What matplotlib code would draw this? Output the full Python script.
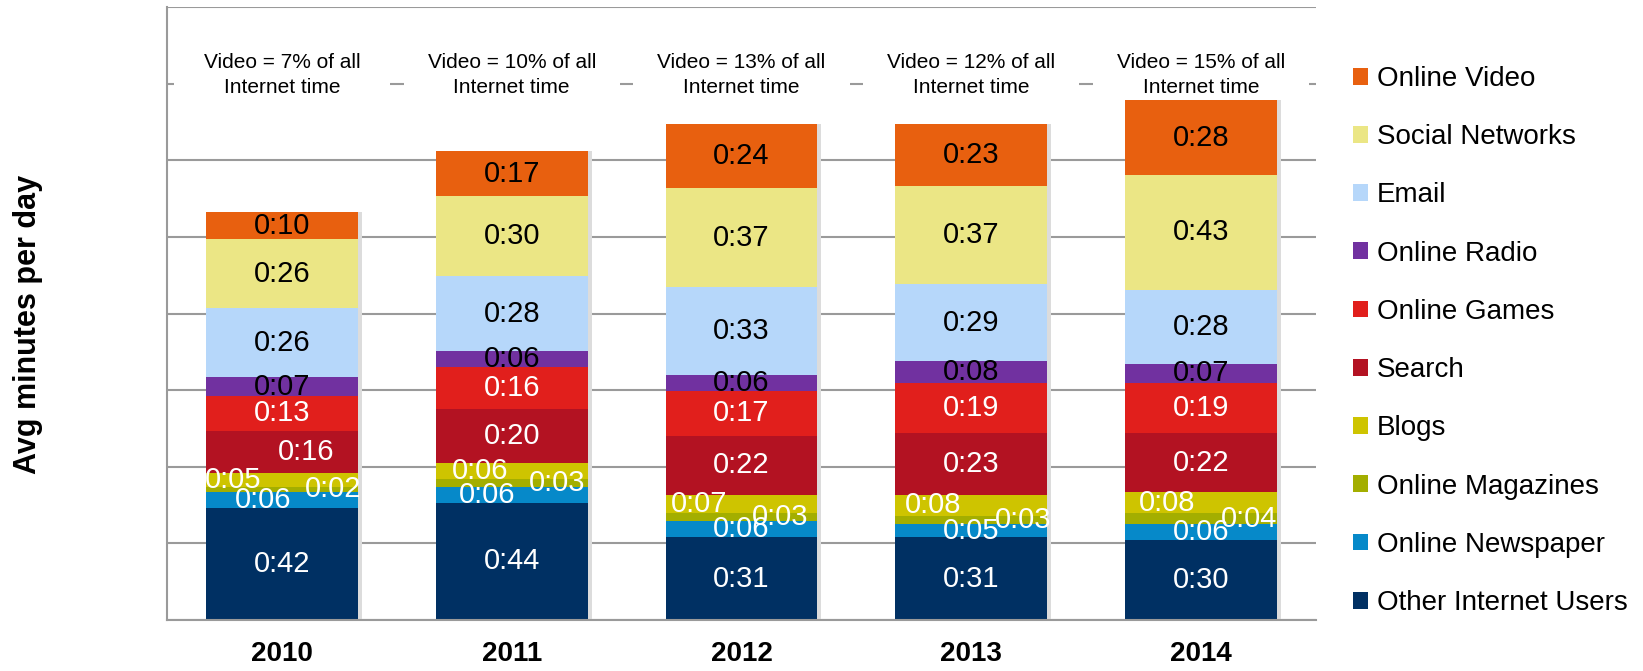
import numpy as np
import matplotlib.pyplot as plt
from matplotlib.patches import Rectangle, Patch

plt.rcParams['font.family'] = ['Liberation Sans', 'DejaVu Sans']

years = ['2010', '2011', '2012', '2013', '2014']
video_share = [7, 10, 13, 12, 15]

# minutes per day, stacked bottom -> top
categories = ['Other Internet Users', 'Online Newspaper', 'Online Magazines', 'Blogs',
              'Search', 'Online Games', 'Online Radio', 'Email', 'Social Networks', 'Online Video']
other = [42, 44, 31, 31, 30]
newspaper = [6, 6, 6, 5, 6]
magazines = [2, 3, 3, 3, 4]
blogs = [5, 6, 7, 8, 8]
search = [16, 20, 22, 23, 22]
games = [13, 16, 17, 19, 19]
radio = [7, 6, 6, 8, 7]
email = [26, 28, 33, 29, 28]
social = [26, 30, 37, 37, 43]
video = [10, 17, 24, 23, 28]
series = [other, newspaper, magazines, blogs, search, games, radio, email, social, video]

colors = ['#003063', '#0689C9', '#A3AE00', '#CEC400', '#B31222',
          '#E11F1C', '#7131A0', '#B6D7FA', '#EBE685', '#E8600F']
label_colors = ['white'] * 6 + ['black'] * 4

# horizontal nudges of the value labels (pixels), as in the original slide
nudge = {
    'Blogs': [-49, -32, -42, -38, -34],
    'Online Magazines': [51, 45, 39, 52, 48],
    'Online Newspaper': [-19, -25, 0, 0, 0],
    'Search': [24, 0, 0, 0, 0],
}

fig = plt.figure(figsize=(16.43, 6.71), dpi=100)
ax = fig.add_axes([167 / 1643, 51 / 671, 1149 / 1643, 613 / 671])

x = np.arange(len(years))
width = 0.66
px = 1 / 229.8  # one pixel in x data units
ymax = 230
ax.set_xlim(-0.5, 4.5)
ax.set_ylim(0, ymax)

# bar shadow
totals = np.sum(series, axis=0)
ax.bar(x + 4 * px, totals, width, color='#dcdcdc', zorder=1.5, linewidth=0)

bottom = np.zeros(len(years))
for name, vals, col, lc in zip(categories, series, colors, label_colors):
    vals = np.array(vals, dtype=float)
    ax.bar(x, vals, width, bottom=bottom, color=col, zorder=2, linewidth=0)
    offs = nudge.get(name, [0] * len(years))
    for i, v in enumerate(vals):
        ax.text(x[i] + offs[i] * px, bottom[i] + v / 2, '0:%02d' % v,
                ha='center', va='center', fontsize=21, color=lc, zorder=4)
    bottom += vals

# annotations on top
for i, s in enumerate(video_share):
    ax.add_patch(Rectangle((x[i] - 0.47, 190), 0.94, 24, facecolor='white',
                           edgecolor='none', zorder=1.2))
    ax.text(x[i], 204.5, 'Video = %d%% of all\nInternet time' % s, ha='center',
            va='center', fontsize=15, linespacing=1.4, zorder=4)

ax.set_yticks(np.linspace(0, ymax, 9))
ax.set_yticklabels([])
ax.yaxis.grid(True, color='#9a9a9a', linewidth=1.5, zorder=1)
ax.set_axisbelow(True)
ax.tick_params(axis='y', length=0)
ax.set_xticks(x)
ax.set_xticklabels(years, fontsize=20, fontweight='bold')
ax.tick_params(axis='x', length=0, pad=15)
for s in ['top', 'right']:
    ax.spines[s].set_visible(False)
for s in ['left', 'bottom']:
    ax.spines[s].set_color('#9a9a9a')
    ax.spines[s].set_linewidth(1.5)

fig.text(28 / 1643, (671 - 324) / 671, 'Avg minutes per day', rotation=90,
         ha='center', va='center', fontsize=22, fontweight='bold')

handles = [Patch(facecolor=c, edgecolor='none') for c in colors[::-1]]
fig.legend(handles, categories[::-1], loc='upper left',
           bbox_to_anchor=(1353 / 1643, (671 - 66) / 671), frameon=False,
           fontsize=20, handlelength=0.55, handleheight=0.55, handletextpad=0.3,
           labelspacing=1.16, borderpad=0, borderaxespad=0)

fig.savefig('out.png', dpi=100)
